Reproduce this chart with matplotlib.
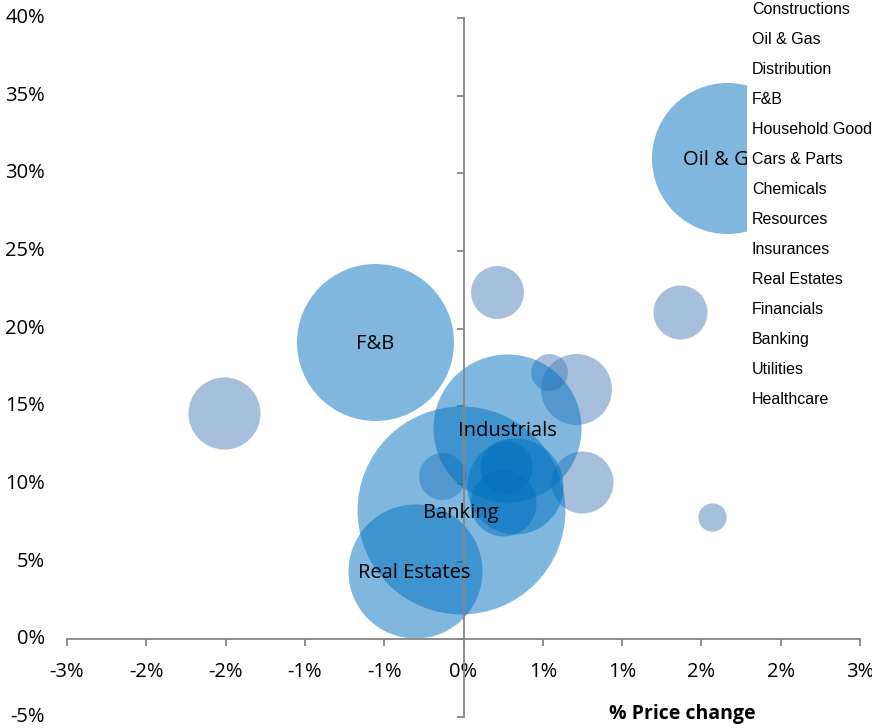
import numpy as np
import matplotlib
matplotlib.use("Agg")
import matplotlib.pyplot as plt

# sector bubbles: price change (%), upside (%), bubble weight (area)
sectors = ["Constructions", "Oil & Gas", "Distribution", "F&B", "Household Good",
           "Cars & Parts", "Chemicals", "Resources", "Insurances", "Real Estates",
           "Financials", "Banking", "Utilities", "Healthcare", "Industrials", "Telecoms"]
price_chg = [-1.81, 1.99, 0.25, -0.67, 1.64, 1.88, 0.90, 0.85, 0.65, -0.37,
             -0.16, -0.02, 0.32, 0.39, 0.33, 0.30]
upside = [14.6, 31.0, 22.35, 19.16, 21.1, 7.9, 10.1, 16.1, 17.2, 4.4,
          10.5, 8.3, 11.1, 9.9, 13.6, 8.8]
weight = [13.0, 57.0, 7.0, 61.6, 7.3, 2.0, 9.6, 12.6, 3.4, 44.9,
          5.5, 108.0, 6.8, 23.0, 54.8, 10.9]
labelled = ["Oil & Gas", "F&B", "Industrials", "Banking", "Real Estates"]
dark = labelled + ["Utilities", "Healthcare", "Telecoms"]
legend_names = sectors[:14]

yticks = list(range(-5, 45, 5))
xticks = np.round(np.linspace(-3, 3, 11), 1) + 0.0

tick_font = "Open Sans"
fig = plt.figure(figsize=(8.72, 7.28), dpi=100)
ax = fig.add_axes([67 / 872, 11 / 728, 793 / 872, 699 / 728])

handles = {}
for name, x, y, w in zip(sectors, price_chg, upside, weight):
    col = "#0070C0" if name in dark else "#4F81BD"
    handles[name] = ax.scatter(x, y, s=w * 207.4, color=col, alpha=0.5,
                               linewidths=0, zorder=2)
    if name in labelled:
        ax.text(x, y, name, ha="center", va="center_baseline", fontsize=14.5,
                family=tick_font, zorder=5)

ax.set_xlim(-3, 3)
ax.set_ylim(-5, 40)
for s in ["top", "right"]:
    ax.spines[s].set_visible(False)
ax.spines["left"].set_position(("data", 0))
ax.spines["bottom"].set_position(("data", 0))
for s in ["left", "bottom"]:
    ax.spines[s].set_color("#868686")
    ax.spines[s].set_linewidth(1.3)
    ax.spines[s].set_zorder(3)

ax.set_xticks(xticks)
ax.set_xticklabels([f"{t:.0f}%" for t in xticks], fontsize=14.5, family=tick_font)
ax.set_yticks(yticks)
ax.tick_params(axis="x", direction="out", length=5, width=1.3, color="#868686", pad=11)
ax.tick_params(axis="y", direction="out", length=5, width=1.3, color="#868686",
               labelleft=False)
for v in yticks:
    ax.text(-0.028, v, f"{v}%", transform=ax.get_yaxis_transform(), ha="right",
            va="center", fontsize=14.5, family=tick_font)

fig.text(682 / 872, 1 - 714 / 728, "% Price change", ha="center", va="center",
         fontsize=14, fontweight="bold", family=tick_font)

leg = ax.legend([handles[n] for n in legend_names], legend_names, loc="upper left",
                bbox_to_anchor=(747 / 872, 1.004), bbox_transform=fig.transFigure,
                handlelength=0, handletextpad=0, borderpad=0.3, borderaxespad=0,
                labelspacing=0.94, frameon=True, fancybox=False, facecolor="white",
                edgecolor="none", framealpha=1,
                prop={"family": "Liberation Sans", "size": 11.5})
leg.set_zorder(10)
for h in leg.legend_handles:
    h.set_visible(False)

fig.savefig("out.png", dpi=100)
